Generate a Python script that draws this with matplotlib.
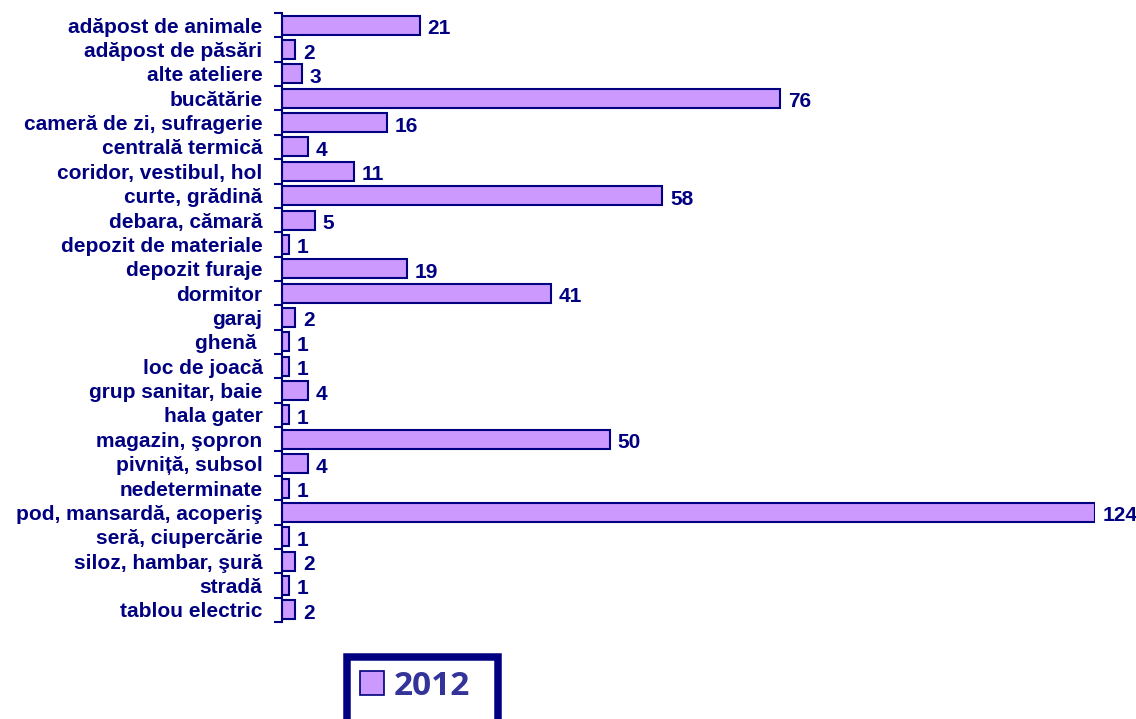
import matplotlib
matplotlib.use("Agg")
import matplotlib.pyplot as plt
from matplotlib.patches import Patch, Rectangle

categories = [
    "adăpost de animale", "adăpost de păsări", "alte ateliere", "bucătărie",
    "cameră de zi, sufragerie", "centrală termică", "coridor, vestibul, hol",
    "curte, grădină", "debara, cămară", "depozit de materiale", "depozit furaje",
    "dormitor", "garaj", "ghenă ", "loc de joacă", "grup sanitar, baie",
    "hala gater", "magazin, şopron", "pivniță, subsol", "nedeterminate",
    "pod, mansardă, acoperiş", "seră, ciupercărie", "siloz, hambar, şură",
    "stradă", "tablou electric",
]
values = [21, 2, 3, 76, 16, 4, 11, 58, 5, 1, 19, 41, 2, 1, 1, 4, 1, 50, 4, 1, 124, 1, 2, 1, 2]
series_name = "2012"

NAVY = "#000080"
FILL = "#CC99FF"

plt.rcParams['font.family'] = ['Liberation Sans', 'DejaVu Sans']

fig = plt.figure(figsize=(11.36, 7.19), dpi=100)
W, H = 1136, 719
ax = fig.add_axes([282 / W, 1 - 622 / H, (1095 - 282) / W, (622 - 13) / H])

y = list(range(len(categories)))
ax.barh(y, values, height=0.78, color=FILL, edgecolor=NAVY, linewidth=1.5, zorder=2)
ax.set_ylim(len(categories) - 0.5, -0.5)
ax.set_xlim(0, 124)

ax.set_yticks(y)
ax.set_yticklabels(categories, fontsize=15, fontweight='bold', color=NAVY)
ax.tick_params(axis='y', which='major', length=0, pad=14)
ax.set_yticks([k - 0.5 for k in range(len(categories) + 1)], minor=True)
ax.tick_params(axis='y', which='minor', length=6, width=1.5, color=NAVY, direction='out')

ax.set_xticks([])
for s in ['top', 'right', 'bottom']:
    ax.spines[s].set_visible(False)
ax.spines['left'].set_color(NAVY)
ax.spines['left'].set_linewidth(1.5)

for yi, v in zip(y, values):
    ax.annotate(str(v), xy=(v, yi), xytext=(5.5, -2.5), textcoords='offset points',
                ha='left', va='center', fontsize=15, fontweight='bold',
                color=NAVY, annotation_clip=False)

# legend box frame (extends past the bottom edge as in the reference)
lw_px = 7.5
fig.patches.append(Rectangle(((343 + lw_px / 2) / W, (719 - 760) / H),
                             (502 - 343 - lw_px) / W, (760 - 653 - lw_px / 2) / H,
                             transform=fig.transFigure, facecolor='white',
                             edgecolor=NAVY, linewidth=lw_px * 0.72, zorder=0))

handle = Patch(facecolor=FILL, edgecolor=NAVY, linewidth=1.2)
leg = fig.legend([handle], [series_name], loc='upper left',
                 bbox_to_anchor=(353 / W, 1 - 663 / H),
                 prop={'family': 'Open Sans', 'weight': 'bold', 'size': 24},
                 handlelength=0.72, handleheight=0.72, handletextpad=0.3,
                 borderpad=0.2, borderaxespad=0, frameon=False)
for t in leg.get_texts():
    t.set_color("#333399")

fig.savefig("out.png", dpi=100)
